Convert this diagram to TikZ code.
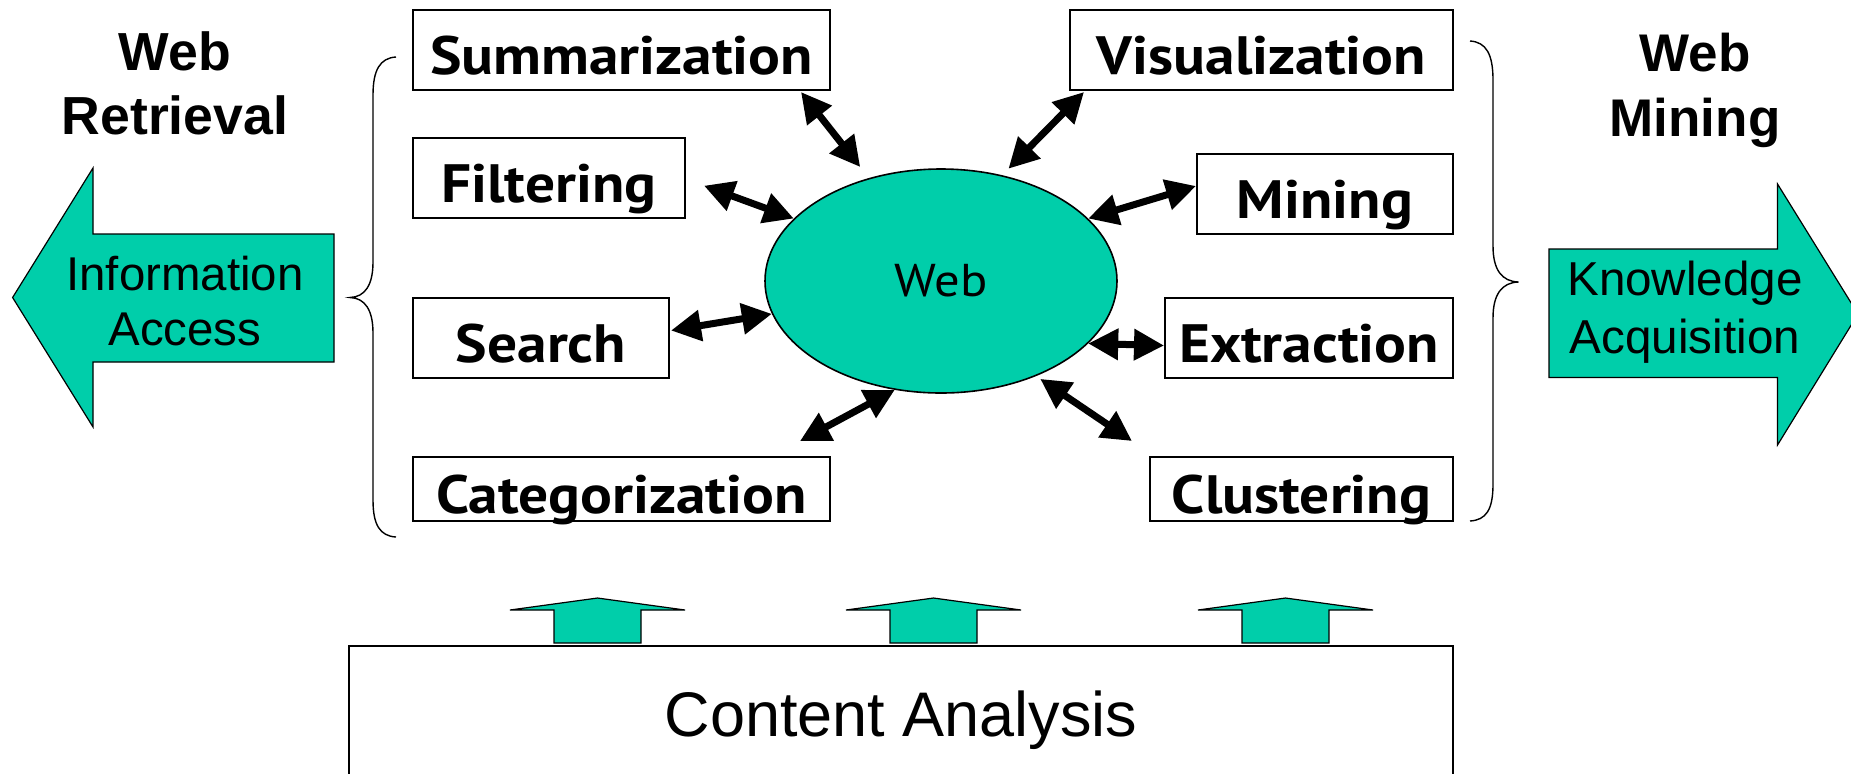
\documentclass[tikz,border=0pt]{standalone}
\usepackage{fontspec}
\usepackage{tikz}
\usetikzlibrary{arrows.meta,shapes.geometric}
\setmainfont{Liberation Sans}
\newfontfamily\boxfont[FakeStretch = 1.1]{PT Sans}
\definecolor{webteal}{RGB}{0,206,170}

\begin{document}
\begin{tikzpicture}[x = 0.5pt, y = -0.5pt,
  task/.style = {draw, line width = 1pt, fill = white, inner sep = 0pt, text height = 24.5pt, text depth = 0pt, font = \boxfont\bfseries\fontsize{27}{30}\selectfont},
  both/.style = {line width = 3.5pt, {Triangle[length = 15pt, width = 15pt]}-{Triangle[length = 15pt, width = 15pt]}},
  bigarrow/.style = {draw, line width = 0.6pt, fill = webteal},
  curly/.style = {line width = 0.7pt}]
\clip (0,0) rectangle (1851,773);

% the web in the middle
\node[ellipse, draw, fill = webteal, line width = 0.8pt, minimum width = 176pt, minimum height = 112pt, inner sep = 0pt, font = \boxfont\fontsize{23}{26}\selectfont] (web) at (941,281) {Web};

% retrieval side
\node[task, minimum width = 208.5pt, minimum height = 40pt] (summ) at (621.5,49.6) {Summarization};
\node[task, minimum width = 136pt, minimum height = 40pt] (filt) at (549,177.7) {Filtering};
\node[task, minimum width = 128pt, minimum height = 40pt] (search) at (541,337.5) {Search};
\node[task, minimum width = 208.5pt, minimum height = 32pt] (categ) at (621.5,489) {Categorization};

% mining side
\node[task, minimum width = 191.5pt, minimum height = 40pt] (visual) at (1261.5,49.6) {Visualization};
\node[task, minimum width = 128pt, minimum height = 40pt] (mining) at (1325,194) {Mining};
\node[task, minimum width = 144pt, minimum height = 40pt] (extr) at (1309,337.5) {Extraction};
\node[task, minimum width = 151.5pt, minimum height = 32pt] (clust) at (1301.5,489) {Clustering};

\draw[both, shorten > = 7pt] ([xshift = -15pt, yshift = -0.7pt]summ.south east) -- (web.125);
\draw[both] ([xshift = 9pt, yshift = -4pt]filt.east) -- (web.157);
\draw[both] ([xshift = 0.5pt, yshift = 3.5pt]search.east) -- (web.191);
\draw[both] ([xshift = -15.5pt, yshift = 7.5pt]categ.north east) -- (web.247);
\draw[both, shorten > = 4.5pt] ([xshift = 7.5pt, yshift = -0.7pt]visual.south west) -- (web.60);
\draw[both] ([yshift = 4pt]mining.west) -- (web.23);
\draw[both] ([yshift = -4pt]extr.west) -- (web.-23);
\draw[both, shorten > = 2.5pt] ([xshift = -8.5pt, yshift = 7.5pt]clust.north west) -- (web.-45);

% braces
\draw[curly] (396,57) .. controls (380,58) and (373,70) .. (373,95) -- (373,262)
  .. controls (373,285) and (365,297) .. (350,297.5)
  .. controls (365,298) and (373,310) .. (373,333) -- (373,500)
  .. controls (373,525) and (380,536) .. (396,537);
\draw[curly] (1470,41) .. controls (1486,42) and (1493,54) .. (1493,80) -- (1493,246)
  .. controls (1493,270) and (1502,281.5) .. (1518.5,282)
  .. controls (1502,282.5) and (1493,294) .. (1493,318) -- (1493,484)
  .. controls (1493,510) and (1486,520) .. (1470,521);

% left and right arrows
\draw[bigarrow] (12.6,297.5) -- (93,168) -- (93,234) -- (334,234) -- (334,362) -- (93,362) -- (93,427) -- cycle;
\draw[bigarrow] (1858,314) -- (1777.5,184) -- (1777.5,249) -- (1549,249) -- (1549,377.5) -- (1777.5,377.5) -- (1777.5,445) -- cycle;
\node[align = center, inner sep = 0pt, font = \fontsize{23.7}{27.5}\selectfont] (access) at (185,301) {Information\\Access};
\node[align = center, inner sep = 0pt, font = \fontsize{23.8}{28.75}\selectfont] (knowl) at (1685,312) {Knowledge\\Acquisition};
\node[align = center, inner sep = 0pt, font = \bfseries\fontsize{26.8}{32}\selectfont] (retr) at (175,83.5) {Web\\Retrieval};
\node[align = center, inner sep = 0pt, font = \bfseries\fontsize{26.5}{32.5}\selectfont] (mine) at (1695,90) {Web\\Mining};

% content analysis underneath
\node[draw, line width = 1pt, minimum width = 552pt, minimum height = 74pt, inner sep = 0pt, font = \fontsize{31.5}{34}\selectfont] (content) at (901,720) {Content Analysis};
\foreach \c in {597.5,933.5,1285.5}
  \draw[bigarrow] (\c-87.5,610) -- (\c,598) -- (\c+87.5,610) -- (\c+43.5,610) -- (\c+43.5,643) -- (\c-43.5,643) -- (\c-43.5,610) -- cycle;
\end{tikzpicture}
\end{document}
